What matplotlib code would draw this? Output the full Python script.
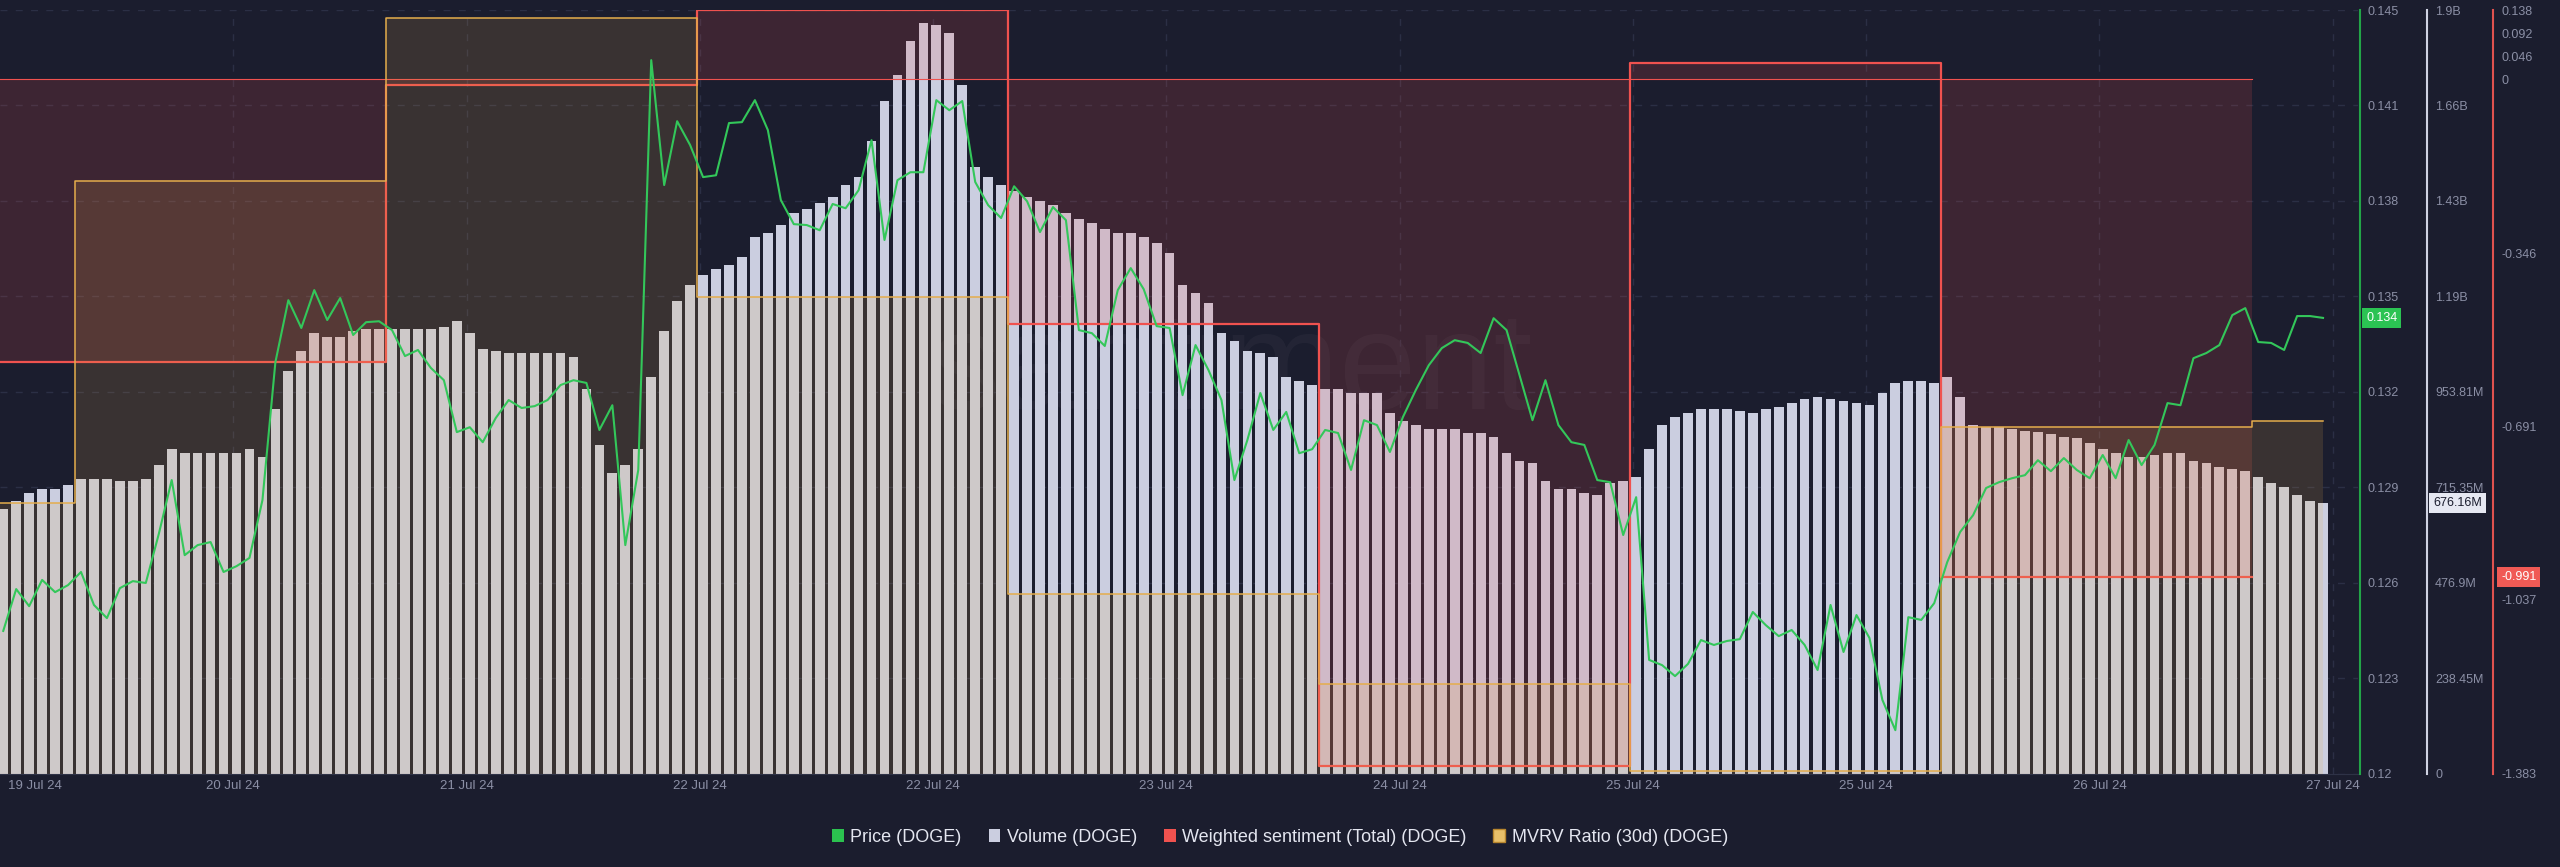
import matplotlib
matplotlib.use('Agg')
import matplotlib.pyplot as plt
import matplotlib.dates as mdates
import matplotlib.transforms as mtransforms
from matplotlib.patches import Patch
import numpy as np
import pandas as pd

plt.rcParams['font.family'] = ['Liberation Sans', 'DejaVu Sans']

# hourly samples, 19 Jul 18:30 -> 27 Jul 05:30
times = pd.date_range('2024-07-19 18:30', periods=180, freq='h')

price = [
    0.12467, 0.12604, 0.12548, 0.12634, 0.12594, 0.12617, 0.12660, 0.12552, 0.12509, 0.12607,
    0.12630, 0.12624, 0.12784, 0.12961, 0.12715, 0.12748, 0.12758, 0.12660, 0.12679, 0.12706,
    0.12895, 0.13347, 0.13550, 0.13459, 0.13583, 0.13485, 0.13557, 0.13436, 0.13478, 0.13481,
    0.13452, 0.13367, 0.13387, 0.13328, 0.13288, 0.13118, 0.13134, 0.13085, 0.13164, 0.13223,
    0.13197, 0.13203, 0.13223, 0.13272, 0.13288, 0.13279, 0.13125, 0.13206, 0.12748, 0.12994,
    0.14336, 0.13927, 0.14136, 0.14058, 0.13953, 0.13959, 0.14130, 0.14133, 0.14205, 0.14107,
    0.13878, 0.13799, 0.13796, 0.13779, 0.13865, 0.13851, 0.13910, 0.14074, 0.13747, 0.13943,
    0.13969, 0.13969, 0.14205, 0.14172, 0.14202, 0.13937, 0.13861, 0.13819, 0.13923, 0.13874,
    0.13773, 0.13855, 0.13812, 0.13452, 0.13442, 0.13400, 0.13583, 0.13655, 0.13586, 0.13465,
    0.13459, 0.13239, 0.13403, 0.13321, 0.13223, 0.12961, 0.13092, 0.13246, 0.13125, 0.13184,
    0.13049, 0.13062, 0.13125, 0.13115, 0.12994, 0.13157, 0.13141, 0.13053, 0.13167, 0.13256,
    0.13337, 0.13393, 0.13419, 0.13410, 0.13377, 0.13491, 0.13452, 0.13305, 0.13157, 0.13288,
    0.13141, 0.13085, 0.13076, 0.12961, 0.12954, 0.12781, 0.12905, 0.12372, 0.12355, 0.12319,
    0.12359, 0.12437, 0.12421, 0.12434, 0.12440, 0.12529, 0.12486, 0.12450, 0.12470, 0.12421,
    0.12339, 0.12552, 0.12398, 0.12519, 0.12444, 0.12241, 0.12142, 0.12512, 0.12503, 0.12558,
    0.12692, 0.12791, 0.12846, 0.12935, 0.12954, 0.12967, 0.12977, 0.13026, 0.12990, 0.13033,
    0.12994, 0.12967, 0.13043, 0.12967, 0.13092, 0.13010, 0.13076, 0.13213, 0.13206, 0.13360,
    0.13377, 0.13403, 0.13501, 0.13524, 0.13413, 0.13410, 0.13387, 0.13498, 0.13498, 0.13492,
]

# 24h volume, billions
volume = [
    0.66, 0.68, 0.70, 0.71, 0.71, 0.72, 0.735, 0.735, 0.735, 0.73,
    0.73, 0.735, 0.77, 0.81, 0.80, 0.80, 0.80, 0.80, 0.80, 0.81,
    0.79, 0.91, 1.005, 1.055, 1.10, 1.09, 1.09, 1.105, 1.11, 1.11,
    1.11, 1.11, 1.11, 1.11, 1.115, 1.13, 1.10, 1.06, 1.055, 1.05,
    1.05, 1.05, 1.05, 1.05, 1.04, 0.96, 0.82, 0.75, 0.77, 0.81,
    0.99, 1.105, 1.18, 1.22, 1.245, 1.26, 1.27, 1.29, 1.34, 1.35,
    1.37, 1.40, 1.41, 1.425, 1.44, 1.47, 1.49, 1.58, 1.68, 1.745,
    1.83, 1.875, 1.87, 1.85, 1.72, 1.515, 1.49, 1.47, 1.455, 1.44,
    1.43, 1.42, 1.40, 1.385, 1.375, 1.36, 1.35, 1.35, 1.34, 1.325,
    1.30, 1.22, 1.20, 1.175, 1.10, 1.08, 1.055, 1.05, 1.04, 0.99,
    0.98, 0.97, 0.96, 0.96, 0.95, 0.95, 0.95, 0.90, 0.88, 0.87,
    0.86, 0.86, 0.86, 0.85, 0.85, 0.84, 0.80, 0.78, 0.775, 0.73,
    0.71, 0.71, 0.70, 0.695, 0.725, 0.73, 0.74, 0.81, 0.87, 0.89,
    0.90, 0.91, 0.91, 0.91, 0.905, 0.90, 0.91, 0.915, 0.925, 0.935,
    0.94, 0.935, 0.93, 0.925, 0.92, 0.95, 0.975, 0.98, 0.98, 0.975,
    0.99, 0.94, 0.87, 0.865, 0.865, 0.86, 0.857, 0.853, 0.848, 0.84,
    0.838, 0.825, 0.81, 0.80, 0.79, 0.79, 0.795, 0.80, 0.80, 0.78,
    0.775, 0.765, 0.76, 0.755, 0.74, 0.725, 0.715, 0.695, 0.68, 0.67616,
]

# daily series
days = pd.date_range('2024-07-19', '2024-07-27', freq='D')
sentiment = [-0.564, -0.564, -0.011, 0.138, -0.488, -1.367, 0.033, -0.991]   # 19..26 Jul
mvrv = [-3.04, 2.86, 5.86, 0.73, -4.71, -6.36, -7.95, -1.65, -1.54]           # 19..27 Jul

price_ticks = np.linspace(0.12, 0.145, 9)
price_labels = ['0.12', '0.123', '0.126', '0.129', '0.132', '0.135', '0.138', '0.141', '0.145']
vol_max = 1.90762
vol_ticks = np.linspace(0, vol_max, 9)
vol_labels = ['0', '238.45M', '476.9M', '715.35M', '953.81M', '1.19B', '1.43B', '1.66B', '1.9B']
sent_ticks = [-1.383, -1.037, -0.691, -0.346, 0, 0.046, 0.092, 0.138]
sent_labels = ['-1.383', '-1.037', '-0.691', '-0.346', '0', '0.046', '0.092', '0.138']
date_ticks = pd.date_range('2024-07-19 18:15', periods=11, freq='18h')
legend_names = ['Price (DOGE)', 'Volume (DOGE)', 'Weighted sentiment (Total) (DOGE)', 'MVRV Ratio (30d) (DOGE)']

BG = '#1b1d2e'
GREEN = '#33c75a'
VOL = '#cbcee0'
RED = '#f0524f'
GOLD = '#e5ad4c'
TXT = '#8b8fa5'

fig = plt.figure(figsize=(25.6, 8.67), dpi=100, facecolor=BG)
ax = fig.add_axes([0, 0.1078, 0.9211, 0.8806])
ax_s = ax.twinx()
ax_m = ax.twinx()
ax_p = ax.twinx()
ax.set_facecolor(BG)

# watermark
ax.text(0.522, 0.525, 'santiment', transform=ax.transAxes, fontsize=100,
        color='white', alpha=0.035, ha='center', va='center', zorder=0)

# volume
ax.bar(times, volume, width=0.75 / 24, color=VOL, lw=0, zorder=2)
ax.set_ylim(0, vol_max)

# weighted sentiment, filled from zero
sx = list(days)
sy = sentiment + [sentiment[-1]]
ax_s.fill_between(sx, sy, 0, step='post', color=RED, alpha=0.16, lw=0)
ax_s.step(sx, sy, where='post', color=RED, lw=1.6)
ax_s.plot([days[0], days[-1]], [0, 0], color=RED, lw=0.8)
ax_s.set_ylim(-1.383, 0.138)

# mvrv, hidden scale
mx = list(days) + [times[-1]]
my = mvrv + [mvrv[-1]]
ax_m.fill_between(mx, my, -8, step='post', color=GOLD, alpha=0.15, lw=0)
ax_m.step(mx, my, where='post', color=GOLD, lw=1.1)
ax_m.set_ylim(-8, 6)

# price
ax_p.plot(times, price, color=GREEN, lw=1.5)
ax_p.set_ylim(0.12, 0.145)

# spines / axes
for a in (ax, ax_s, ax_m, ax_p):
    a.spines['left'].set_visible(False)
    a.spines['top'].set_visible(False)
for a in (ax_s, ax_m, ax_p):
    a.spines['bottom'].set_visible(False)
ax.spines['bottom'].set_color('#2e3246')

ax.yaxis.tick_right()
ax.spines['right'].set_position(('axes', 1.0293))
ax.spines['right'].set_color('#cfd2e2')
ax.spines['right'].set_linewidth(1.5)
ax_p.spines['right'].set_position(('axes', 1.0008))
ax_p.spines['right'].set_color('#22a447')
ax_p.spines['right'].set_linewidth(1.5)
ax_s.spines['right'].set_position(('axes', 1.0573))
ax_s.spines['right'].set_color('#e0524f')
ax_s.spines['right'].set_linewidth(1.5)
ax_m.spines['right'].set_visible(False)
ax_m.set_yticks([])

ax.set_yticks(vol_ticks, vol_labels)
ax_p.set_yticks(price_ticks, price_labels)
ax_s.set_yticks(sent_ticks, sent_labels)
for a in (ax, ax_p, ax_s):
    a.tick_params(axis='y', length=0, pad=5.8, labelsize=9, labelcolor=TXT)

ax.grid(True, axis='both', color='#2b2f45', lw=1, ls=(0, (5, 6)))
ax.set_axisbelow(True)

ax.set_xlim(pd.Timestamp('2024-07-19 18:15'), pd.Timestamp('2024-07-27 08:12'))
ax.set_xticks(date_ticks[1:])
ax.xaxis.set_major_formatter(mdates.DateFormatter('%d %b %y'))
ax.tick_params(axis='x', length=0, pad=5, labelsize=9.5, labelcolor=TXT)
off = mtransforms.ScaledTranslation(0, -5 / 72, fig.dpi_scale_trans)
ax.text(8 / 2358, 0, date_ticks[0].strftime('%d %b %y'), transform=ax.transAxes + off,
        ha='left', va='top', fontsize=9.5, color=TXT)

# last value badges
tp = mtransforms.blended_transform_factory(ax.transAxes, ax_p.transData)
ax_p.text(1.0034, price[-1], '%.3f' % (int(price[-1] * 1000) / 1000), transform=tp,
          ha='left', va='center', fontsize=9, color='white', clip_on=False, zorder=10,
          bbox=dict(boxstyle='square,pad=0.3', fc='#2bc353', ec='none'))
tv = mtransforms.blended_transform_factory(ax.transAxes, ax.transData)
ax.text(1.0318, volume[-1], '%.2fM' % (volume[-1] * 1000), transform=tv,
        ha='left', va='center', fontsize=9, color='#1b1d2e', clip_on=False, zorder=10,
        bbox=dict(boxstyle='square,pad=0.3', fc='#e6e8f2', ec='none'))
ts = mtransforms.blended_transform_factory(ax.transAxes, ax_s.transData)
ax_s.text(1.0607, sentiment[-1], '%.3f' % sentiment[-1], transform=ts,
          ha='left', va='center', fontsize=9, color='white', clip_on=False, zorder=10,
          bbox=dict(boxstyle='square,pad=0.3', fc='#f05a55', ec='none'))

handles = [Patch(facecolor='#2bc24f'), Patch(facecolor=VOL), Patch(facecolor=RED),
           Patch(facecolor='#e8c06a', edgecolor='#b8862e')]
fig.legend(handles, legend_names, loc='center', bbox_to_anchor=(0.5, 0.0346), ncol=4,
           frameon=False, fontsize=13, handlelength=0.65, handleheight=0.75,
           handletextpad=0.35, columnspacing=1.5, labelcolor='#e4e6f0')

fig.savefig('out.png', dpi=100, facecolor=BG)
